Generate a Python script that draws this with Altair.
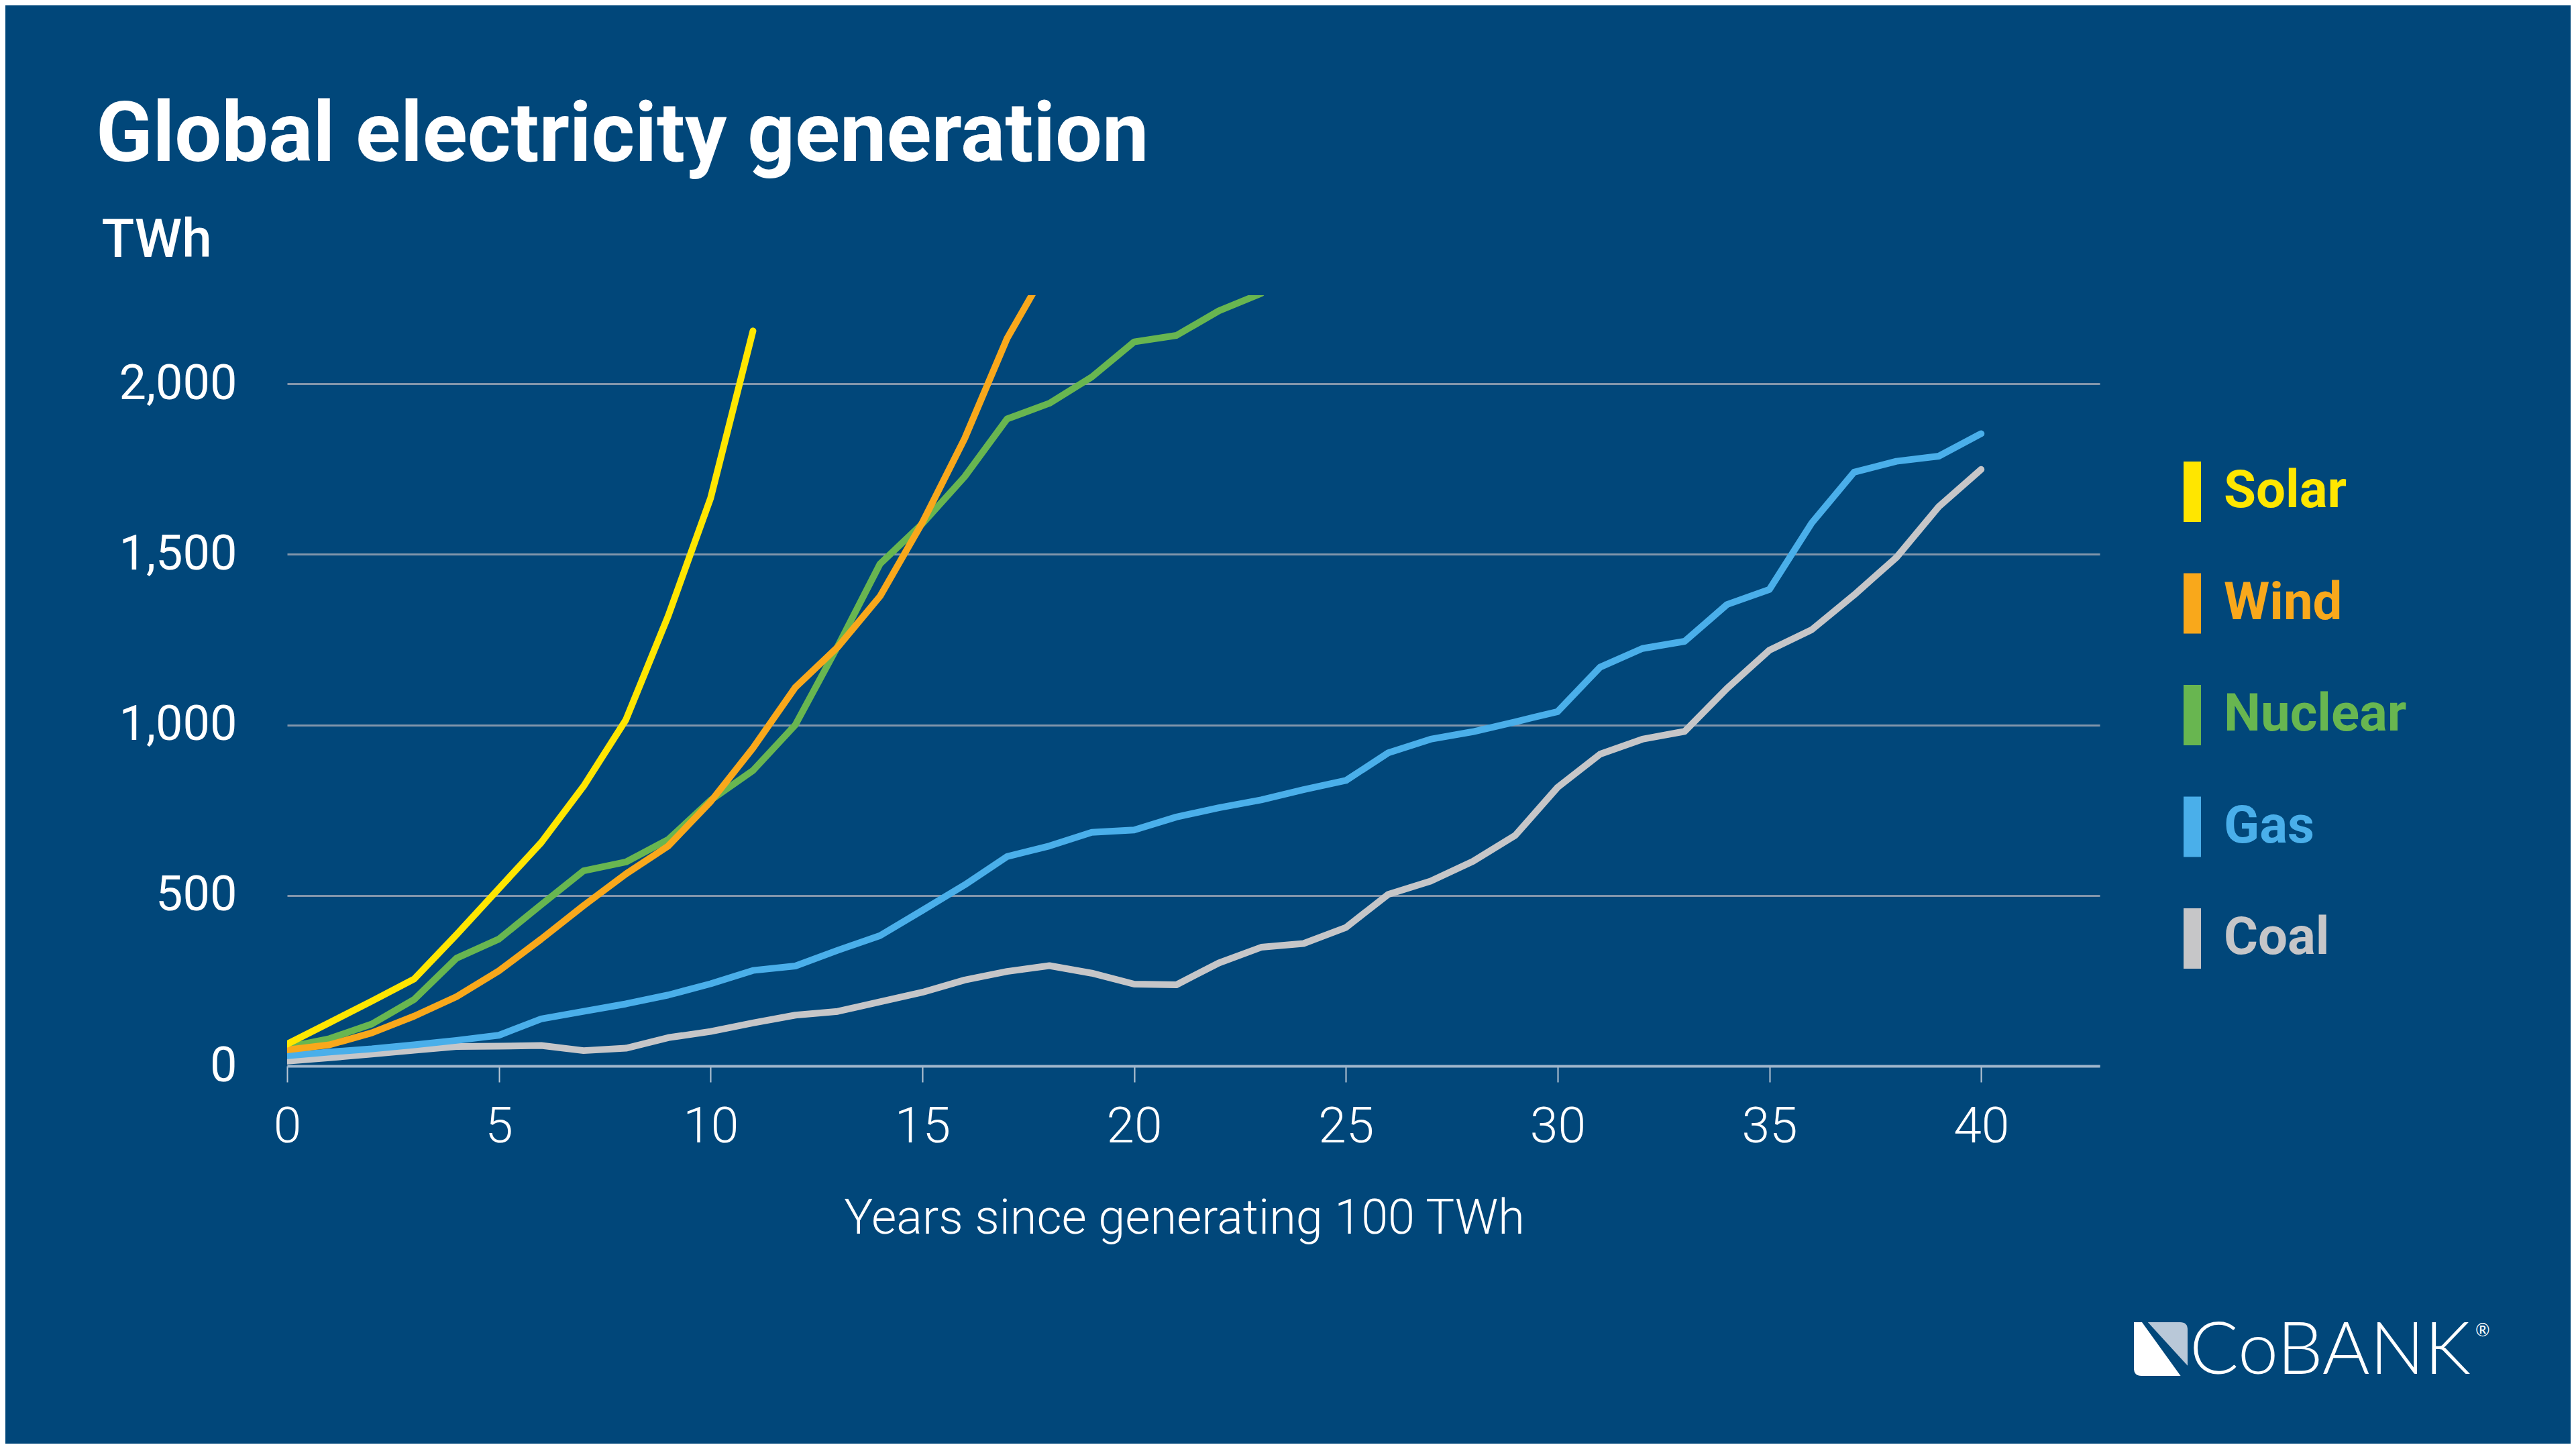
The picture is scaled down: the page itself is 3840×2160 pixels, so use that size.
import altair as alt
import pandas as pd

# ---- data (TWh by years since generating 100 TWh) ----
sources = ["Solar", "Wind", "Nuclear", "Gas", "Coal"]
colors = ["#FFE600", "#F9A81B", "#68B650", "#4AAFEA", "#C6C6C8"]

solar = [64, 127, 190, 255, 385, 520, 655, 820, 1015, 1320, 1665, 2155]
wind = [47, 62, 97, 146, 203, 279, 372, 470, 563, 645, 775, 932, 1110, 1228,
        1377, 1593, 1840, 2133, 2350]
nuclear = [55, 80, 123, 195, 316, 372, 473, 572, 598, 664, 779, 866, 1000, 1230,
           1472, 1590, 1728, 1897, 1943, 2020, 2123, 2142, 2214, 2265]
gas = [30, 41, 50, 62, 75, 90, 138, 160, 182, 208, 241, 280, 293, 339, 382, 456,
       531, 614, 645, 685, 692, 730, 757, 780, 810, 837, 918, 958, 980, 1009,
       1039, 1169, 1224, 1245, 1353, 1397, 1592, 1741, 1773, 1788, 1854]
coal = [14, 24, 35, 46, 57, 58, 60, 45, 52, 83, 101, 126, 149, 160, 188, 216,
        252, 277, 294, 272, 240, 238, 302, 348, 359, 406, 503, 542, 600, 676,
        817, 914, 958, 981, 1107, 1219, 1279, 1381, 1491, 1640, 1749]

x_ticks = [0, 5, 10, 15, 20, 25, 30, 35, 40]
y_ticks = [0, 500, 1000, 1500, 2000]

series = {"Coal": coal, "Gas": gas, "Nuclear": nuclear, "Wind": wind, "Solar": solar}
rows = []
for name, vals in series.items():
    for yr, v in enumerate(vals):
        rows.append({"Source": name, "Year": yr, "TWh": v})
df = pd.DataFrame(rows)

BG = "#01477A"
FONT = "Roboto"

lines = alt.Chart(df).mark_line(
    strokeWidth=10, strokeCap="round", strokeJoin="round", clip=True
).encode(
    x=alt.X("Year:Q",
            scale=alt.Scale(domain=[0, 42.8], nice=False, zero=False),
            axis=alt.Axis(values=x_ticks, title="Years since generating 100 TWh",
                          labelFont=FONT, labelFontSize=75, labelFontWeight=300,
                          labelColor="#FFFFFF", labelPadding=30, labelFlush=False,
                          tickColor="#B8C6D4", tickWidth=2, tickSize=24,
                          domainColor="#9FB6CC", domainWidth=4, grid=False,
                          titleFont=FONT, titleFontSize=72, titleFontWeight=300,
                          titleColor="#FFFFFF", titleX=1337, titleY=249,
                          titleAlign="center", titleBaseline="alphabetic")),
    y=alt.Y("TWh:Q",
            scale=alt.Scale(domain=[0, 2260], nice=False),
            axis=alt.Axis(values=y_ticks, format=",d", domain=False, ticks=False,
                          tickSize=0, labelPadding=75, labelFont=FONT,
                          labelFontSize=72, labelColor="#FFFFFF", labelFlush=False,
                          gridColor="#8296AB", gridWidth=3,
                          title="TWh", titleAngle=0, titleX=-277, titleY=-58,
                          titleAlign="left", titleBaseline="alphabetic",
                          titleFont=FONT, titleFontSize=80, titleFontWeight=500,
                          titleColor="#FFFFFF")),
    color=alt.Color("Source:N",
                    scale=alt.Scale(domain=sources, range=colors),
                    legend=alt.Legend(
                        title=None, orient="none", legendX=2782, legendY=235,
                        symbolType="M0,-1V1", symbolSize=8100,
                        symbolStrokeWidth=26, labelFont=FONT, labelFontSize=78,
                        labelFontWeight="bold",
                        labelOffset=alt.ExprRef("-11"),
                        rowPadding=alt.ExprRef("-27.5"),
                        labelLimit=1000,
                        labelColor=alt.ExprRef("scale('color', datum.value)"),
                    )),
)

# ---- CoBank logo (decoration) ----
logo_df = pd.DataFrame({"t": ["CoBANK"]})
icon_white = alt.Chart(logo_df).mark_point(
    shape="M-1,-1L-0.7,-1L0.74,1L-0.72,1Q-1,1,-1,0.72Z",
    filled=True, color="#FFFFFF", opacity=1, size=6400
).encode(x=alt.value(2793), y=alt.value(1571))
icon_grey = alt.Chart(logo_df).mark_point(
    shape="M-0.48,-1L0.72,-1Q1,-1,1,-0.72L1,0.62Z",
    filled=True, color="#B9C8D8", opacity=1, size=6400
).encode(x=alt.value(2793), y=alt.value(1571))
logo_text = alt.Chart(logo_df).mark_text(
    font="Lato", fontSize=108, fontWeight=300, color="#FFFFFF",
    align="left", baseline="alphabetic"
).encode(text="t:N", x=alt.value(2836), y=alt.value(1608))
reg_text = alt.Chart(pd.DataFrame({"t": ["®"]})).mark_text(
    font="Lato", fontSize=26, color="#FFFFFF", align="left", baseline="alphabetic"
).encode(text="t:N", x=alt.value(3262), y=alt.value(1552))

chart = alt.layer(lines, icon_white, icon_grey, logo_text, reg_text).properties(
    width=2702, height=1149,
    padding={"left": 420, "top": 432, "right": 702, "bottom": 563},
    autosize=alt.AutoSizeParams(type="none"),
    background=BG,
    title=alt.TitleParams(
        "Global electricity generation", anchor="start", frame="group",
        dx=-285, offset=-46, font=FONT, fontSize=124, fontWeight="bold",
        color="#FFFFFF", baseline="alphabetic"),
).configure_view(stroke=None)

chart.save("out.html", embed_options={"renderer": "svg", "actions": False})
